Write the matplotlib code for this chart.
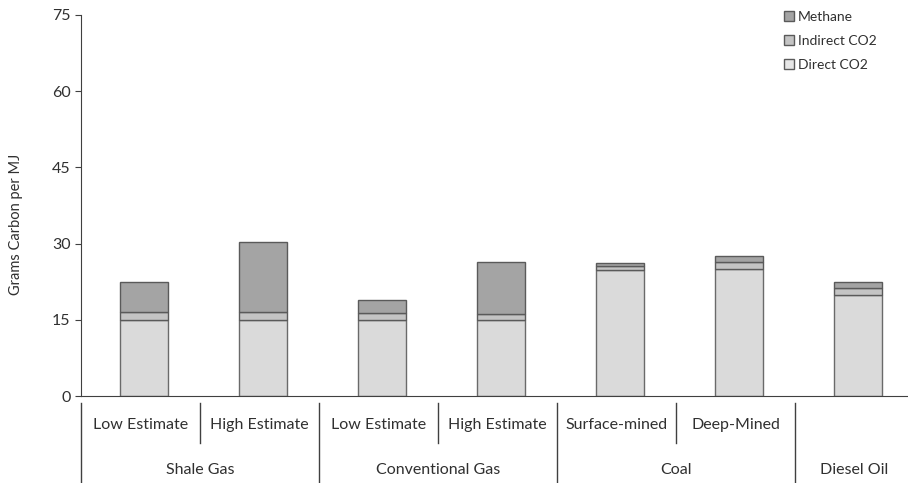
import matplotlib.pyplot as plt
from matplotlib.patches import Patch
import matplotlib.transforms as mtransforms

# values (grams carbon per MJ)
sub_labels = ["Low Estimate", "High Estimate", "Low Estimate", "High Estimate",
              "Surface-mined", "Deep-Mined", ""]
groups = ["Shale Gas", "Conventional Gas", "Coal", "Diesel Oil"]
group_sizes = [2, 2, 2, 1]
direct_co2 = [15.0, 15.0, 15.0, 15.0, 24.9, 25.0, 19.9]
indirect_co2 = [1.5, 1.5, 1.3, 1.2, 0.6, 1.3, 1.3]
methane = [6.0, 13.8, 2.6, 10.2, 0.7, 1.3, 1.2]

plt.rcParams['font.family'] = ['Lato', 'DejaVu Sans']

fig = plt.figure(figsize=(9.08, 4.83), dpi=100)
ax = fig.add_axes([81 / 908, 1 - 396 / 483, 833 / 908, (396 - 15) / 483])

# bars sit slightly right of the category centres in the original
x = [i + 0.03 for i in range(len(direct_co2))]
bottom2 = [d + i for d, i in zip(direct_co2, indirect_co2)]
w = 0.4
ax.bar(x, direct_co2, w, color="#dadada", edgecolor="#6a6a6a", linewidth=1, label="Direct CO2")
ax.bar(x, indirect_co2, w, bottom=direct_co2, color="#c4c4c4", edgecolor="#5a5a5a",
       linewidth=1, label="Indirect CO2")
ax.bar(x, methane, w, bottom=bottom2, color="#a4a4a4", edgecolor="#5a5a5a",
       linewidth=1, label="Methane")

ax.set_xlim(-0.5, 6.5)
ax.set_ylim(0, 75)
ax.set_yticks([0, 15, 30, 45, 60, 75])
ax.tick_params(axis="y", labelsize=11.5, length=4, color="#404040", labelcolor="#303030")
ax.set_xticks([])
for s in ["top", "right"]:
    ax.spines[s].set_visible(False)
ax.spines["left"].set_color("#404040")
ax.spines["bottom"].set_color("#404040")
ax.set_ylabel("Grams Carbon per MJ", fontsize=10.5, color="#303030")
ax.yaxis.set_label_coords(-0.07, 0.45)

# two-level category axis
trans = mtransforms.blended_transform_factory(ax.transData, ax.transAxes)
px = 1 / ((396 - 15))  # one pixel in axes height
for i, lab in enumerate(sub_labels):
    if lab:
        ax.text(i, -29 * px, lab, transform=trans, ha="center", va="center",
                fontsize=11.5, color="#303030")
start = 0
bounds = [-0.5]
for g, n in zip(groups, group_sizes):
    ax.text(start + (n - 1) / 2, -74 * px, g, transform=trans, ha="center",
            va="center", fontsize=11.5, color="#303030")
    for k in range(1, n):
        xb = start + k - 0.5
        ax.plot([xb, xb], [-7 * px, -47 * px], transform=trans, color="#404040",
                lw=1, clip_on=False)
    start += n
    bounds.append(start - 0.5)
for xb in bounds:
    ax.plot([xb, xb], [-7 * px, -90 * px], transform=trans, color="#404040",
            lw=1, clip_on=False)

handles = [Patch(facecolor="#a4a4a4", edgecolor="#5a5a5a", label="Methane"),
           Patch(facecolor="#c4c4c4", edgecolor="#5a5a5a", label="Indirect CO2"),
           Patch(facecolor="#e6e6e6", edgecolor="#5a5a5a", label="Direct CO2")]
fig.legend(handles=handles, loc="upper left", bbox_to_anchor=(784 / 908, 1 - 11 / 483),
           frameon=False, fontsize=10, handlelength=0.7, handleheight=0.7,
           handletextpad=0.3, labelspacing=0.85, borderaxespad=0, borderpad=0,
           labelcolor="#303030")

fig.savefig("out.png", dpi=100)
